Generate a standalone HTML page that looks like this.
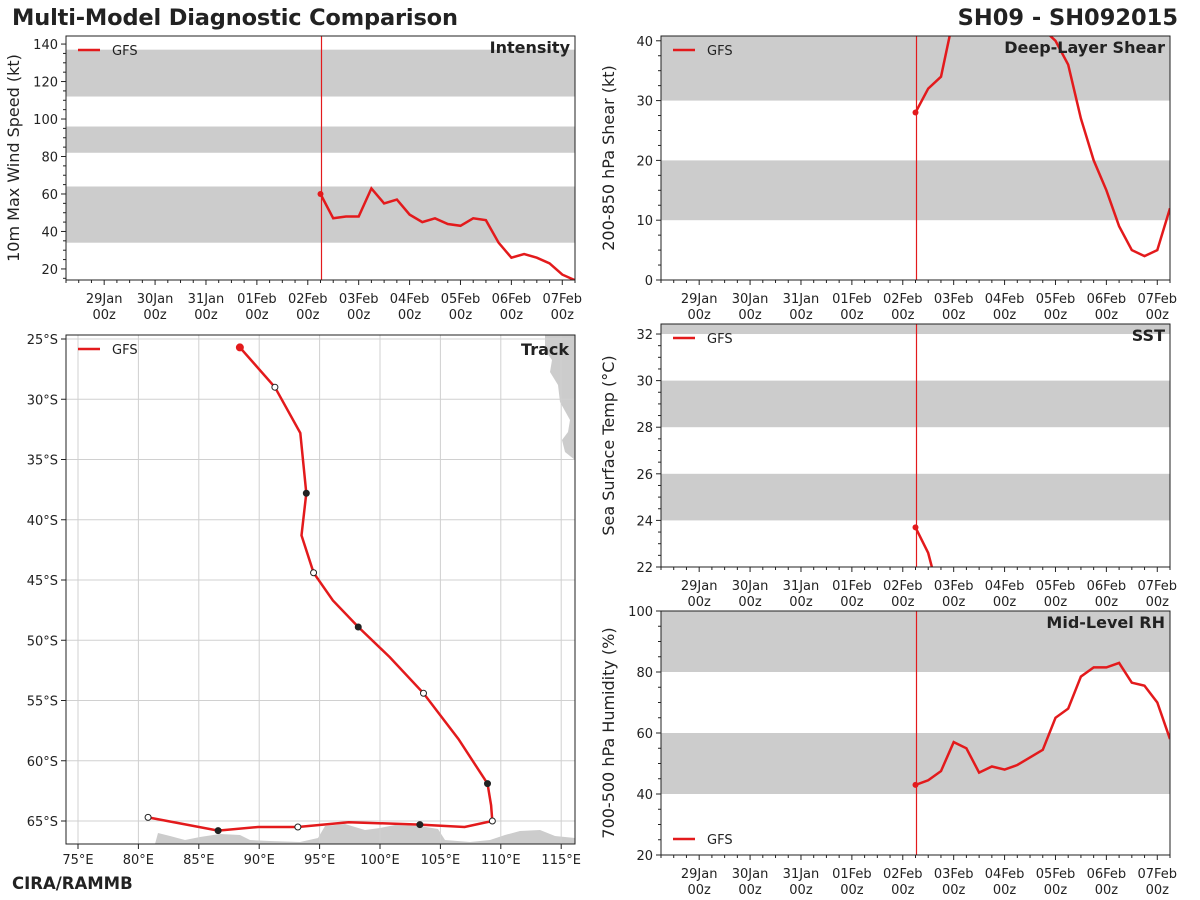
<!DOCTYPE html>
<html><head><meta charset="utf-8"><style>
body{margin:0;background:#fff;}
svg{display:block;font-family:"DejaVu Sans","Liberation Sans",sans-serif;}
</style></head><body>
<svg id="s" width="1200" height="900">
<text x="12" y="25" font-size="22.5" font-weight="bold" fill="#222" textLength="446">Multi-Model Diagnostic Comparison</text>
<text x="1178" y="25" font-size="22.5" font-weight="bold" fill="#222" text-anchor="end">SH09 - SH092015</text>
<text x="12" y="889" font-size="16.5" font-weight="bold" fill="#222">CIRA/RAMMB</text>
</svg>
<script>
const dayLabels=["29Jan","30Jan","31Jan","01Feb","02Feb","03Feb","04Feb","05Feb","06Feb","07Feb"];
const intensity=[60,47,48,48,63,55,57,49,45,47,44,43,47,46,34,26,28,26,23,17,14];
const shear=[28,32,34,44,48,50,50,48,46,44,42,40,36,27,20,15,9,5,4,5,12];
const sst=[23.7,22.6,20.5,19.5,19,18.5,18,17.5,17,16.5,16,15.5,15,14.5,14,13.5,13,12.5,12,11.5,11];
const rh=[43,44.5,47.5,57,55,47,49,48,49.5,52,54.5,65,68,78.5,81.5,81.5,83,76.5,75.5,70,58];
const trackLon=[88.4,91.3,93.4,93.9,93.5,94.5,96.1,98.2,100.8,103.6,106.5,108.9,109.2,109.3,107.0,103.3,97.4,93.2,89.9,86.6,80.8];
const trackLat=[25.7,29.0,32.8,37.8,41.3,44.4,46.7,48.9,51.4,54.4,58.2,61.9,63.7,65.0,65.5,65.3,65.1,65.5,65.5,65.8,64.7];
const markerIdx=[0,1,3,5,7,9,11,13,15,17,19,20];
const markerType=["start","open","filled","open","filled","open","filled","open","filled","open","filled","open"];
const NS="http://www.w3.org/2000/svg";
const svg=document.getElementById('s');
function el(t,a,p){const e=document.createElementNS(NS,t);for(const k in a)e.setAttribute(k,a[k]);(p||svg).appendChild(e);return e;}
const RED="#e31a1c";
function tsPanel(o){
  const g=el('g',{});
  
  
  const {x0,x1,y0,y1,vmin,vmax}=o;
  const Y=v=>y1-(v-vmin)/(vmax-vmin)*(y1-y0);
  const X=d=>x0+(d+0.75)/10*(x1-x0);
  const cp='cp'+o.name;
  const c=el('clipPath',{id:cp},g);el('rect',{x:x0,y:y0,width:x1-x0,height:y1-y0},c);
  o.bands.forEach(b=>{const r=el('rect',{x:x0,y:Y(Math.min(b[1],vmax)),width:x1-x0,height:Y(b[0])-Y(Math.min(b[1],vmax)),fill:"#cccccc"},g);
    });
  const rx=Math.round(X(4.25))+0.5;
  const vl=el('line',{x1:rx,x2:rx,y1:y0,y2:y1,stroke:RED,'stroke-width':1.2},g);
  
  const pts=o.data.map((v,i)=>X(4.25+i*0.25).toFixed(1)+','+Y(v).toFixed(1)).join(' ');
  const pl=el('polyline',{points:pts,fill:'none',stroke:RED,'stroke-width':2.5,'clip-path':`url(#${cp})`},g);
  
  el('circle',{cx:X(4.25),cy:Y(o.data[0]),r:3,fill:RED},g);
  el('rect',{x:x0,y:y0,width:x1-x0,height:y1-y0,fill:'none',stroke:'#222','stroke-width':1},g);
  for(let v=Math.ceil(vmin/o.minor)*o.minor;v<=vmax;v+=o.minor){
    const maj=Math.abs(v/o.step-Math.round(v/o.step))<1e-6;
    el('line',{x1:x0,x2:x0-(maj?5:3),y1:Y(v),y2:Y(v),stroke:'#222'},g);
    if(maj){const t=el('text',{x:x0-8,y:Y(v)+5,'font-size':13,'text-anchor':'end',fill:'#222'},g);t.textContent=v;
      }
  }
  for(let q=-3;q<=37;q++){const xx=X(q*0.25);if(xx<x0||xx>x1)continue;const maj=q%4==0;
    el('line',{x1:xx,x2:xx,y1:y1,y2:y1+(maj?5:3),stroke:'#222'},g);
    if(maj){const t=el('text',{x:xx,y:y1+23,'font-size':13,'text-anchor':'middle',fill:'#222'},g);t.textContent=dayLabels[q/4];
      
      const t2=el('text',{x:xx,y:y1+39,'font-size':13,'text-anchor':'middle',fill:'#222'},g);t2.textContent='00z';}
  }
  const yt=el('text',{transform:`translate(${x0-47},${(y0+y1)/2}) rotate(-90)`,'font-size':16,'text-anchor':'middle',fill:'#222'},g);
  yt.textContent=o.ylabel;
  const pt=el('text',{x:x1-5,y:o.titleY||y0+17,'font-size':16,'font-weight':'bold','text-anchor':'end',fill:'#222'},g);
  pt.textContent=o.title;
  const ly=o.legY||y0+14;
  const lg=el('g',{},g);
  el('line',{x1:x0+12,x2:x0+34,y1:ly,y2:ly,stroke:RED,'stroke-width':2.5},lg);
  const lt=el('text',{x:x0+46,y:ly+5,'font-size':13,fill:'#222'},lg);lt.textContent='GFS';
}
tsPanel({name:'intensity',x0:66,x1:575,y0:36,y1:280,vmin:14.1,vmax:144.3,step:20,minor:5,bands:[[34,64],[82,96],[112,137]],data:intensity,ylabel:'10m Max Wind Speed (kt)',title:'Intensity'});
tsPanel({name:'shear',x0:661,x1:1170,y0:36,y1:280,vmin:0,vmax:40.8,step:10,minor:2.5,bands:[[10,20],[30,41]],data:shear,ylabel:'200-850 hPa Shear (kt)',title:'Deep-Layer Shear',titleY:53});
tsPanel({name:'sst',x0:661,x1:1170,y0:324,y1:567,vmin:22,vmax:32.43,step:2,minor:0.5,bands:[[24,26],[28,30],[32,33]],data:sst,ylabel:'Sea Surface Temp (°C)',title:'SST',titleY:341});
tsPanel({name:'rh',x0:661,x1:1170,y0:611,y1:855,vmin:20,vmax:100,step:20,minor:5,bands:[[40,60],[80,100]],data:rh,ylabel:'700-500 hPa Humidity (%)',title:'Mid-Level RH',titleY:628,legY:839});

(function(){
  const x0=66,x1=575,y0=335,y1=844;
  const X=lon=>78+(lon-75)*12.08, Y=lat=>339+(lat-25)*12.05;
  const g=el('g',{});
  const c=el('clipPath',{id:'cptrack'},g);el('rect',{x:x0,y:y0,width:x1-x0,height:y1-y0},c);
  const cg=el('g',{'clip-path':'url(#cptrack)'},g);
  const land1=el('path',{d:`M545,335 L575,335 L575,460 L565,452 L562,440 L568,432 L570,420 L560,402 L558,385 L550,372 L552,360 L545,350 Z`,fill:'#cccccc'},cg);
  
  const land2=el('path',{d:`M155,844 L158,833 L170,836 L185,840 L200,837 L220,834 L240,835 L250,840 L270,841 L300,842 L318,838 L325,826 L345,824 L365,830 L380,828 L395,825 L420,826 L438,829 L445,840 L470,842 L490,840 L505,835 L520,831 L540,830 L555,836 L575,838 L575,844 Z`,fill:'#cccccc'},cg);
  
  for(let lon=75;lon<=115;lon+=5){el('line',{x1:X(lon),x2:X(lon),y1:y0,y2:y1,stroke:'#d0d0d0'},cg);
    el('line',{x1:X(lon),x2:X(lon),y1:y1,y2:y1+5,stroke:'#222'},g);
    const t=el('text',{x:X(lon),y:y1+20,'font-size':13,'text-anchor':'middle',fill:'#222'},g);t.textContent=lon+'°E';
    }
  for(let lat=25;lat<=65;lat+=5){el('line',{x1:x0,x2:x1,y1:Y(lat),y2:Y(lat),stroke:'#d0d0d0'},cg);
    el('line',{x1:x0,x2:x0-5,y1:Y(lat),y2:Y(lat),stroke:'#222'},g);
    const t=el('text',{x:x0-8,y:Y(lat)+5,'font-size':13,'text-anchor':'end',fill:'#222'},g);t.textContent=lat+'°S';
    }
  const pts=trackLon.map((lo,i)=>X(lo).toFixed(1)+','+Y(trackLat[i]).toFixed(1)).join(' ');
  const pl=el('polyline',{points:pts,fill:'none',stroke:RED,'stroke-width':2.5},cg);
  
  markerIdx.forEach((i,k)=>{const t=markerType[k];
    const m=el('circle',{cx:X(trackLon[i]),cy:Y(trackLat[i]),r:t=='start'?3.5:3,fill:t=='start'?RED:(t=='filled'?'#222':'#fff'),stroke:t=='start'?RED:'#222','stroke-width':1},cg);
    });
  el('rect',{x:x0,y:y0,width:x1-x0,height:y1-y0,fill:'none',stroke:'#222'},g);
  const pt=el('text',{x:x1-6,y:y0+20,'font-size':16,'font-weight':'bold','text-anchor':'end',fill:'#222'},g);pt.textContent='Track';
  
  const lg=el('g',{},g);
  el('line',{x1:x0+12,x2:x0+34,y1:y0+14,y2:y0+14,stroke:RED,'stroke-width':2.5},lg);
  const lt=el('text',{x:x0+46,y:y0+19,'font-size':13,fill:'#222'},lg);lt.textContent='GFS';
})();
</script>
</body></html>
